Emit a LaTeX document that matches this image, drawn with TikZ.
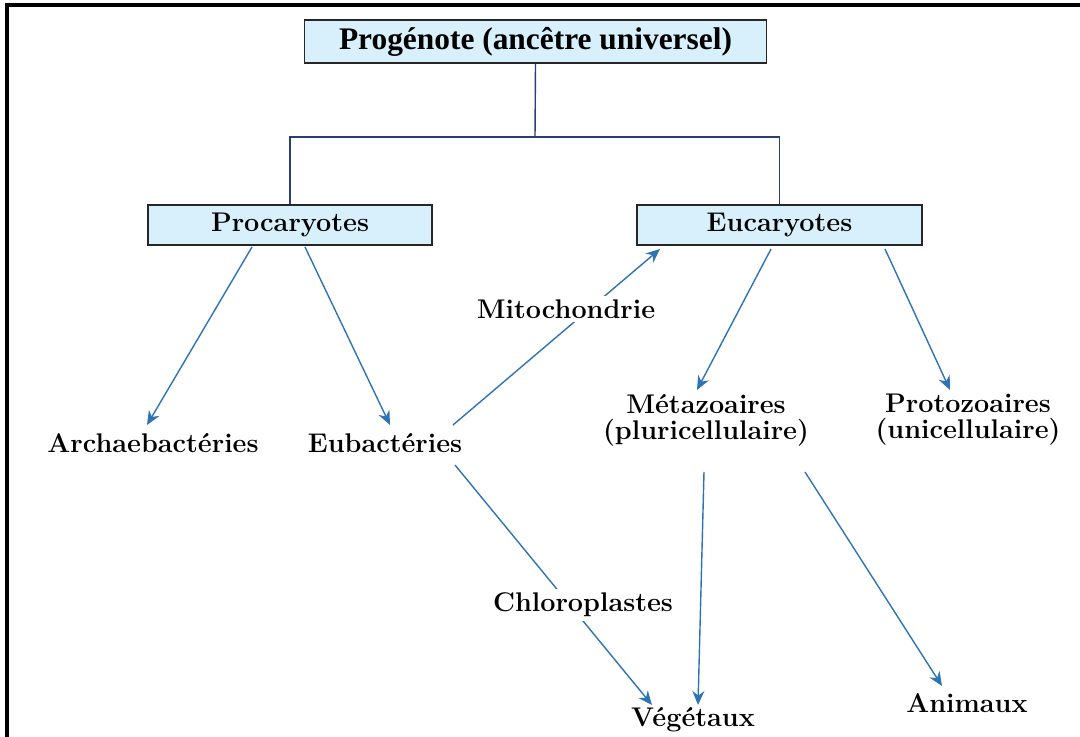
\documentclass[tikz,border=0pt]{standalone}
\usepackage{fontspec}
\newfontfamily\condfont{Liberation Serif}
\usetikzlibrary{arrows.meta}
\definecolor{boxfill}{HTML}{D8F0FB}
\definecolor{navy}{HTML}{2A3F7A}
\definecolor{arrblue}{HTML}{2E74B5}
\tikzset{
  box/.style={draw=black!85, line width=0.8pt, fill=boxfill, inner sep=0pt, font=\bfseries\fontsize{13.5}{15}\selectfont},
  lbl/.style={inner sep=1pt, font=\bfseries\fontsize{13.5}{15}\selectfont, align=center},
  wlbl/.style={lbl, fill=white, inner sep=2pt},
  tree/.style={draw=navy, line width=0.7pt},
  arr/.style={draw=arrblue, line width=0.7pt, -{Stealth[length=7pt,width=6pt]}},
}
\begin{document}
\begin{tikzpicture}[x=0.5pt,y=-0.5pt]
\useasboundingbox (0,0) rectangle (1080,737);
% frame
\draw[line width=1.6pt, black] (7,737) -- (7,5) -- (1080,5);
% boxes
\node[box, minimum width=231pt, minimum height=21.5pt, font=\condfont\bfseries\fontsize{15.7}{17}\selectfont] (prog) at (535.5,41.5) {Progénote (ancêtre universel)};
\node[box, minimum width=142pt, minimum height=20pt] (proc) at (290,225) {Procaryotes};
\node[box, minimum width=142.5pt, minimum height=20pt] (euc) at (779.5,225) {Eucaryotes};
% labels
\node[lbl] (arch) at (153,443) {Archaebactéries};
\node[lbl] (eub) at (385,443) {Eubactéries};
\node[lbl] (meta) at (706,420) {Métazoaires\\[-2pt](pluricellulaire)};
\node[lbl] (proto) at (968,420) {Protozoaires\\[-2pt](unicellulaire)};
\node[lbl] (veg) at (693,720) {Végétaux};
\node[lbl] (anim) at (967,703) {Animaux};
% tree lines
\coordinate (mid) at (535,137);
\draw[tree] (prog.south) -- (mid);
\draw[tree] (proc.north) |- (mid) -| (euc.north);
% end points
\coordinate (a1s) at (252,247); \coordinate (a1e) at (147,425);
\coordinate (a2s) at (305,247); \coordinate (a2e) at (390,425);
\coordinate (a3s) at (453,425); \coordinate (a3e) at (660,249);
\coordinate (a4s) at (771,249); \coordinate (a4e) at (697,390);
\coordinate (a5s) at (885,249); \coordinate (a5e) at (950,390);
\coordinate (a6s) at (455,465); \coordinate (a6e) at (652,705);
\coordinate (a7s) at (704,472); \coordinate (a7e) at (698,705);
\coordinate (a8s) at (805,472); \coordinate (a8e) at (942,686);
\draw[arr] (a1s) -- (a1e);
\draw[arr] (a2s) -- (a2e);
\draw[arr] (a3s) -- (a3e);
\draw[arr] (a4s) -- (a4e);
\draw[arr] (a5s) -- (a5e);
\draw[arr] (a6s) -- (a6e);
\draw[arr] (a7s) -- (a7e);
\draw[arr] (a8s) -- (a8e);
\node[wlbl] (mito) at (566,309) {Mitochondrie};
\node[wlbl] (chloro) at (583,605) {Chloroplastes};
\end{tikzpicture}
\end{document}
